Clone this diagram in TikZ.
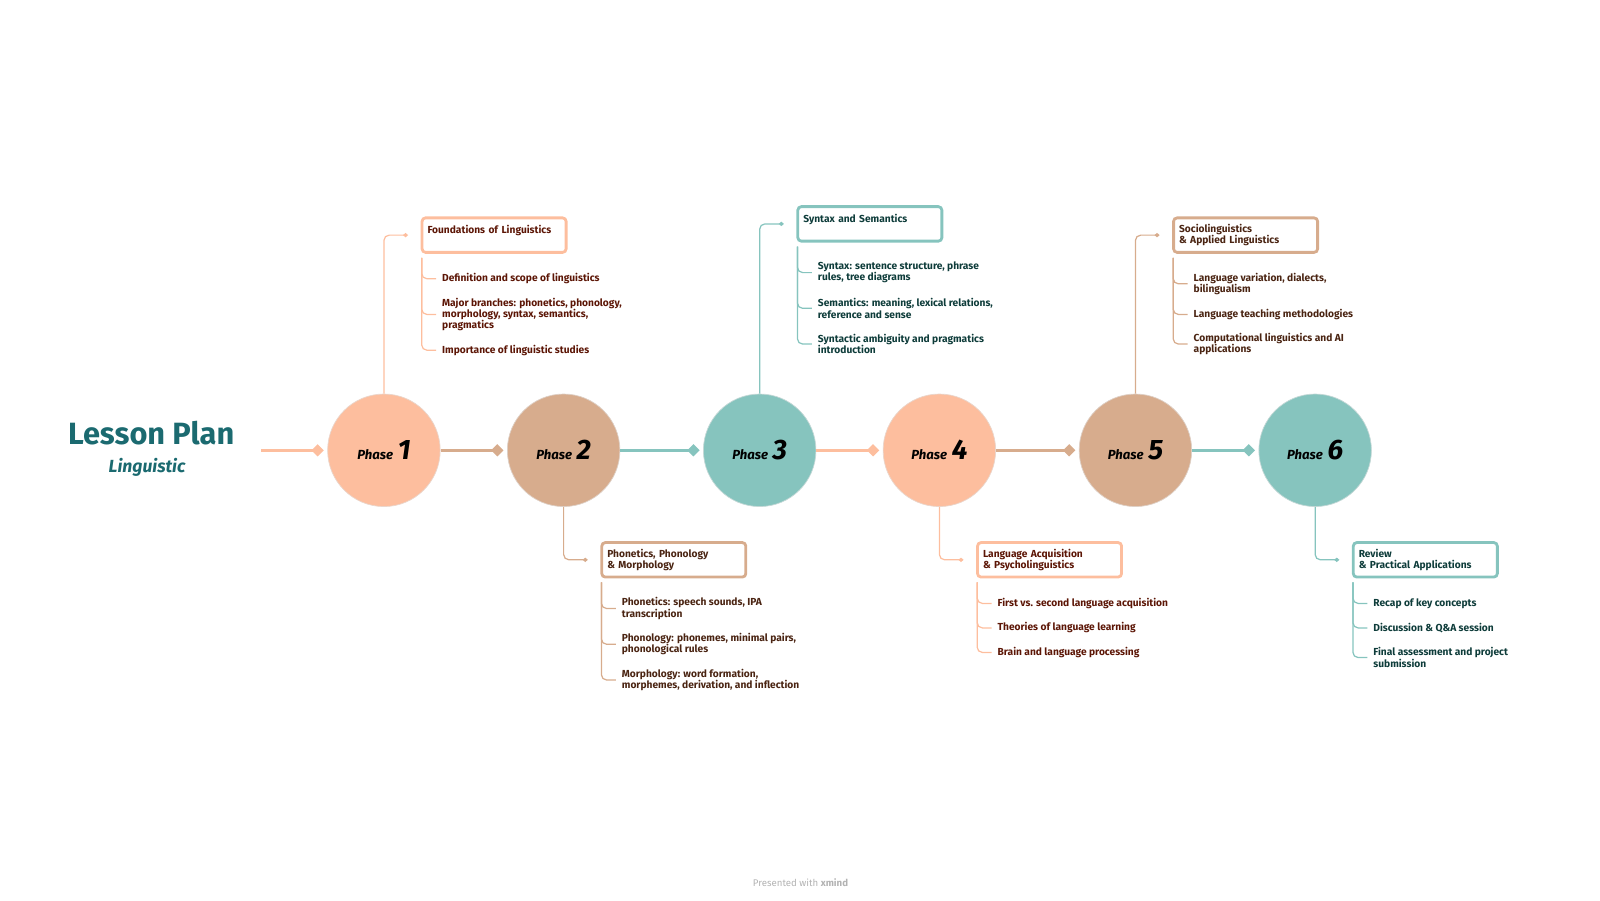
\documentclass[tikz,border=0pt]{standalone}
\usepackage{fontspec}
\setmainfont{Fira Sans}
\usetikzlibrary{arrows.meta, positioning}
\definecolor{peach}{HTML}{FDBE9E}
\definecolor{tan}{HTML}{D7AC8D}
\definecolor{teal}{HTML}{86C4BE}
\definecolor{peachtxt}{HTML}{5C1606}
\definecolor{tantxt}{HTML}{4A2412}
\definecolor{tealtxt}{HTML}{0E3C3A}
\definecolor{titlecol}{HTML}{1B6A70}
\tikzset{
  phase/.style={circle, fill=#1, draw=#1!80!black!40!white, minimum size=2.25cm, inner sep=0pt},
  topic/.style={draw=#1, line width=1.6pt, rounded corners=2pt, minimum width=2.88cm, minimum height=0.69cm,
    text width=2.66cm, align=left, anchor=north west, inner sep=3pt, font=\fontsize{5.8}{6.4}\selectfont\bfseries},
  item/.style={anchor=west, align=left, font=\fontsize{5.8}{6.4}\selectfont\bfseries, inner sep=1pt},
  branch/.style={draw=#1, line width=0.7pt, rounded corners=3pt},
  spine/.style={draw=#1, line width=1.7pt, -{Diamond[length=7pt,width=7pt]}, shorten >=2pt},
}
\newcommand{\phasetxt}[1]{{\fontsize{7.5}{8}\selectfont\bfseries\itshape Phase} {\fontsize{16}{17}\selectfont\bfseries\itshape #1}}
\begin{document}
\begin{tikzpicture}[x=0.02042cm, y=-0.02042cm]
    \useasboundingbox (0,0) rectangle (1567,882.4);

    % title
    \node[text=titlecol, font=\fontsize{17.5}{18}\selectfont\bfseries] (title) at (148,424) {Lesson Plan};
    \node[text=titlecol, font=\fontsize{10}{11}\selectfont\bfseries\itshape] (subtitle) at (144,458) {Linguistic};

    % phases
    \node[phase=peach] (p1) at (376,441) {\phasetxt{1}};
    \node[phase=tan]   (p2) at (552,441) {\phasetxt{2}};
    \node[phase=teal]  (p3) at (744,441) {\phasetxt{3}};
    \node[phase=peach] (p4) at (920,441) {\phasetxt{4}};
    \node[phase=tan]   (p5) at (1112,441) {\phasetxt{5}};
    \node[phase=teal]  (p6) at (1288,441) {\phasetxt{6}};

    % spine
    \coordinate (start) at (256,441);
    \draw[spine=peach] (start) -- (p1.west);
    \foreach \a/\b/\c in {p1/p2/tan, p2/p3/teal, p3/p4/peach, p4/p5/tan, p5/p6/teal}
        \draw[spine=\c] (\a.east) -- (\b.west);

    % phase 1
    \node[topic=peach, text=peachtxt] (t1) at (412,212) {Foundations of Linguistics\\ \mbox{}};
    \node[item, text=peachtxt] (i11) at (431,273) {Definition and scope of linguistics};
    \node[item, text=peachtxt] (i12) at (431,308) {Major branches: phonetics, phonology,\\morphology, syntax, semantics,\\pragmatics};
    \node[item, text=peachtxt] (i13) at (431,343) {Importance of linguistic studies};

    % phase 2
    \node[topic=tan, text=tantxt] (t2) at (588,530) {Phonetics, Phonology\\\& Morphology};
    \node[item, text=tantxt] (i21) at (607,596) {Phonetics: speech sounds, IPA\\transcription};
    \node[item, text=tantxt] (i22) at (607,631) {Phonology: phonemes, minimal pairs,\\phonological rules};
    \node[item, text=tantxt] (i23) at (607,666) {Morphology: word formation,\\morphemes, derivation, and inflection};

    % phase 3
    \node[topic=teal, text=tealtxt] (t3) at (780,201) {Syntax and Semantics\\ \mbox{}};
    \node[item, text=tealtxt] (i31) at (799,267) {Syntax: sentence structure, phrase\\rules, tree diagrams};
    \node[item, text=tealtxt] (i32) at (799,302) {Semantics: meaning, lexical relations,\\reference and sense};
    \node[item, text=tealtxt] (i33) at (799,337) {Syntactic ambiguity and pragmatics\\introduction};

    % phase 4
    \node[topic=peach, text=peachtxt] (t4) at (956,530) {Language Acquisition\\\& Psycholinguistics};
    \node[item, text=peachtxt] (i41) at (975,591) {First vs. second language acquisition};
    \node[item, text=peachtxt] (i42) at (975,615) {Theories of language learning};
    \node[item, text=peachtxt] (i43) at (975,639) {Brain and language processing};

    % phase 5
    \node[topic=tan, text=tantxt] (t5) at (1148,212) {Sociolinguistics\\\& Applied Linguistics};
    \node[item, text=tantxt] (i51) at (1167,278) {Language variation, dialects,\\bilingualism};
    \node[item, text=tantxt] (i52) at (1167,308) {Language teaching methodologies};
    \node[item, text=tantxt] (i53) at (1167,337) {Computational linguistics and AI\\applications};

    % phase 6
    \node[topic=teal, text=tealtxt] (t6) at (1324,530) {Review\\\& Practical Applications};
    \node[item, text=tealtxt] (i61) at (1343,591) {Recap of key concepts};
    \node[item, text=tealtxt] (i62) at (1343,615) {Discussion \& Q\&A session};
    \node[item, text=tealtxt] (i63) at (1343,644) {Final assessment and project\\submission};

    % branches to topics
    \draw[branch=peach, -{Diamond[length=3pt,width=2.5pt]}] (p1.north) |- ([xshift=-0.25cm]t1.west);
    \draw[branch=tan, -{Diamond[length=3pt,width=2.5pt]}] (p2.south) |- ([xshift=-0.25cm]t2.west);
    \draw[branch=teal, -{Diamond[length=3pt,width=2.5pt]}] (p3.north) |- ([xshift=-0.25cm]t3.west);
    \draw[branch=peach, -{Diamond[length=3pt,width=2.5pt]}] (p4.south) |- ([xshift=-0.25cm]t4.west);
    \draw[branch=tan, -{Diamond[length=3pt,width=2.5pt]}] (p5.north) |- ([xshift=-0.25cm]t5.west);
    \draw[branch=teal, -{Diamond[length=3pt,width=2.5pt]}] (p6.south) |- ([xshift=-0.25cm]t6.west);

    % branches to items
    \foreach \t/\c/\list in {t1/peach/{i11,i12,i13}, t2/tan/{i21,i22,i23}, t3/teal/{i31,i32,i33},
                             t4/peach/{i41,i42,i43}, t5/tan/{i51,i52,i53}, t6/teal/{i61,i62,i63}}
        \foreach \i in \list
            \draw[branch=\c] ([xshift=0.02cm, yshift=-0.08cm]\t.south west) |- ([xshift=-0.08cm]\i.west);

    % footer
    \node[text=black!30, font=\fontsize{5.5}{6}\selectfont] (footer) at (784,864) {Presented with \textbf{xmind}};
\end{tikzpicture}
\end{document}
